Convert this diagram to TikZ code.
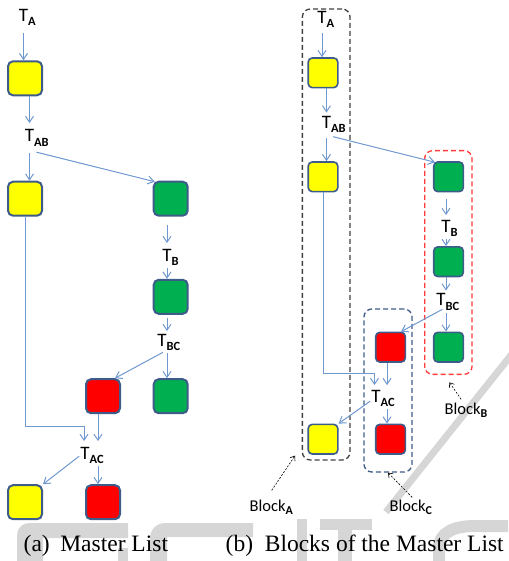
\documentclass[tikz,border=0pt]{standalone}
\usepackage{fontspec}
\setmainfont{Carlito}
\newfontfamily\capfont{Liberation Serif}
\usetikzlibrary{arrows.meta,calc}

\definecolor{boxline}{HTML}{3E5C8A}
\definecolor{flow}{HTML}{6F98D0}
\definecolor{cyel}{HTML}{FFFF00}
\definecolor{cgrn}{HTML}{00B050}
\definecolor{cred}{HTML}{FF0000}
\definecolor{blkA}{HTML}{404040}
\definecolor{blkB}{HTML}{FF3B3B}
\definecolor{blkC}{HTML}{3E5C8A}
\definecolor{wmark}{HTML}{D6D6D6}

% transaction label: T with a lowered bold subscript that does not widen the node
\newcommand{\tsub}[2]{#1\rlap{\raisebox{-4.5pt}{\fontsize{12.5}{13}\selectfont\bfseries #2}}}
% block label: "Block" with a lowered subscript
\newcommand{\bsub}[1]{Block\rlap{\raisebox{-3.5pt}{\fontsize{12}{13}\selectfont\bfseries #1}}}

\tikzset{
  cellL/.style={rounded corners=5pt, draw=boxline, line width=2pt, minimum size=34pt, inner sep=0pt},
  cellR/.style={rounded corners=4pt, draw=boxline, line width=1.6pt, minimum size=29.6pt, inner sep=0pt},
  tlab/.style={anchor=base, inner xsep=1pt, inner ysep=2.5pt, font=\fontsize{19}{22}\selectfont},
  blab/.style={anchor=base west, inner sep=0pt, font=\fontsize{16.5}{19}\selectfont},
  flow/.style={draw=flow, line width=1pt, -{Straight Barb[length=6pt,width=8pt]}},
  blockbox/.style={dash pattern=on 5pt off 3pt, line width=1.3pt, rounded corners=8pt, inner sep=0pt},
  note/.style={draw=black, line width=0.6pt, dash pattern=on 2pt off 1.5pt, -{Straight Barb[length=4pt,width=6pt]}},
  caption/.style={anchor=base west, inner sep=0pt, font=\capfont\fontsize{23.5}{28}\selectfont}
}

\begin{document}
\begin{tikzpicture}[x=1pt, y=-1pt]
\useasboundingbox (0,0) rectangle (508,561);

% faint background watermark
\fill[wmark] (17,561) -- (17,535) arc[start angle=180, end angle=270, radius=12] -- (128,523) -- (128,538) -- (43,538) -- (43,561) -- cycle;
\fill[wmark] (118,548) rectangle (128,561);
\fill[wmark] (150,561) -- (150,538) arc[start angle=180, end angle=270, radius=15] -- (253,523) -- (253,537) -- (167,537) -- (167,561) -- cycle;
\fill[wmark] (297,519) rectangle (307,561);
\fill[wmark] (320,519) rectangle (372,530);
\fill[wmark] (338,519) rectangle (352,561);
\draw[wmark, line width=12pt] (439,561) -- (439,548) .. controls (439,532) and (455,526) .. (475,526) -- (508,526);
\draw[wmark, line width=7pt] (512,354) -- (386,512);

% ---------- (a) master list ----------
\node[cellL, fill=cyel] (ly1) at (25,78.3) {};
\node[tlab] (lta) at (23.5,21.5) {\tsub{T}{A}};
\node[tlab] (ltab) at (29.5,142) {\tsub{T}{AB}};
\node[cellL, fill=cyel] (ly2) at (25,198.7) {};
\node[cellL, fill=cgrn] (lg1) at (170.7,198.7) {};
\node[tlab] (ltb) at (167,261) {\tsub{T}{B}};
\node[cellL, fill=cgrn] (lg2) at (170.7,296.8) {};
\node[tlab] (ltbc) at (162,346) {\tsub{T}{BC}};
\node[cellL, fill=cred] (lr1) at (103,396.2) {};
\node[cellL, fill=cgrn] (lg3) at (170.7,396.2) {};
\node[tlab] (ltac) at (85,459) {\tsub{T}{AC}};
\node[cellL, fill=cyel] (ly3) at (25,502.2) {};
\node[cellL, fill=cred] (lr2) at (103,502.2) {};

\coordinate (lgcol) at (167,0);
\coordinate (lrcol) at (98,0);
\coordinate (ljoin) at (84,426);

\draw[flow, shorten <=4pt] (lta.south) -- (lta.south |- ly1.north);
\draw[flow, shorten >=4pt] (ltab |- ly1.south) -- (ltab.north);
\draw[flow, shorten <=4pt] (ltab.south) -- (ltab.south |- ly2.north);
\draw[flow] ($(ltab.south)+(7,3)$) -- ($(lg1.north west)+(2,1)$);
\draw[flow, shorten <=8pt, shorten >=3pt] (lgcol |- lg1.south) -- (lgcol |- ltb.north);
\draw[flow] (lgcol |- ltb.south) -- (lgcol |- lg2.north);
\draw[flow, shorten <=3pt] (lgcol |- lg2.south) -- (lgcol |- ltbc.north);
\draw[flow] (lgcol |- ltbc.south) -- (lgcol |- lg3.north);
\draw[flow] ($(ltbc.south)+(1,-1)$) -- ($(lr1.north east)+(-6,0)$);
\draw[flow, shorten >=3pt] (ly2.south) |- (ljoin) -- (ljoin |- ltac.north);
\draw[flow, shorten >=3pt] (lrcol |- lr1.south) -- (lrcol |- ltac.north);
\draw[flow] ($(ltac.west)+(0,1)$) -- (ly3.north east);
\draw[flow] (lrcol |- ltac.south) -- (lrcol |- lr2.north);

% ---------- (b) blocks of the master list ----------
\node[blockbox, draw=blkA, minimum width=47.7pt, minimum height=451pt] (bA) at (326.2,234.5) {};
\node[blockbox, draw=blkB, minimum width=47.4pt, minimum height=223.7pt] (bB) at (448.35,262.5) {};
\node[blockbox, draw=blkC, minimum width=48.1pt, minimum height=163.1pt] (bC) at (388,390.5) {};

\node[cellR, fill=cyel] (ry1) at (323,72.8) {};
\node[tlab] (rta) at (322,23.5) {\tsub{T}{A}};
\node[tlab] (rtab) at (326.5,128.5) {\tsub{T}{AB}};
\node[cellR, fill=cyel] (ry2) at (323,176.8) {};
\node[cellR, fill=cgrn] (rg1) at (448.5,176.8) {};
\node[tlab] (rtb) at (446,232) {\tsub{T}{B}};
\node[cellR, fill=cgrn] (rg2) at (448.5,261.7) {};
\node[tlab] (rtbc) at (441,305.5) {\tsub{T}{BC}};
\node[cellR, fill=cred] (rr1) at (390.5,347.2) {};
\node[cellR, fill=cgrn] (rg3) at (448.5,347.2) {};
\node[tlab] (rtac) at (376,402) {\tsub{T}{AC}};
\node[cellR, fill=cyel] (ry3) at (323,439.2) {};
\node[cellR, fill=cred] (rr2) at (390.5,439.2) {};

\coordinate (rgcol) at (446,0);
\coordinate (rrcol) at (387,0);
\coordinate (rjoin) at (374.5,373.3);

\draw[flow, shorten <=2pt] (rta.south) -- (rta.south |- ry1.north);
\draw[flow, shorten >=1pt] (rtab |- ry1.south) -- (rtab.north);
\draw[flow, shorten <=2pt] (rtab.south) -- (rtab.south |- ry2.north);
\draw[flow] ($(rtab.south)+(6.5,1)$) -- ($(rg1.north west)+(2,1)$);
\draw[flow, shorten <=7pt, shorten >=2pt] (rgcol |- rg1.south) -- (rgcol |- rtb.north);
\draw[flow] (rgcol |- rtb.south) -- (rgcol |- rg2.north);
\draw[flow] (rgcol |- rg2.south) -- (rgcol |- rtbc.north);
\draw[flow] (rgcol |- rtbc.south) -- (rgcol |- rg3.north);
\draw[flow] ($(rtbc.south)+(1.5,-3.5)$) -- ($(rr1.north east)+(-5,0)$);
\draw[flow, shorten >=2pt] (ry2.south) |- (rjoin) -- (rjoin |- rtac.north);
\draw[flow, shorten >=2pt] (rrcol |- rr1.south) -- (rrcol |- rtac.north);
\draw[flow] ($(rtac.west)+(0,3)$) -- (ry3.north east);
\draw[flow] (rrcol |- rtac.south) -- (rrcol |- rr2.north);

% block labels with their pointers
\node[blab] (lbA) at (249.5,511) {\bsub{A}};
\node[blab] (lbB) at (444.5,414) {\bsub{B}};
\node[blab] (lbC) at (389.5,511) {\bsub{C}};
\draw[note] ($(lbA.north)+(4,-9)$) -- ($(bA.south west)+(-6.7,-5)$);
\draw[note] ($(lbB.north)+(-1.5,-3)$) -- ($(bB.south)+(1,7.3)$);
\draw[note] ($(lbC.north)+(4.5,-2)$) -- (bC.south);

% captions
\node[caption] (capa) at (23.5,551.7) {(a)\hspace{0.45em}Master List};
\node[caption] (capb) at (225.5,551.7) {(b)\hspace{0.5em}Blocks of the Master List};
\end{tikzpicture}
\end{document}
